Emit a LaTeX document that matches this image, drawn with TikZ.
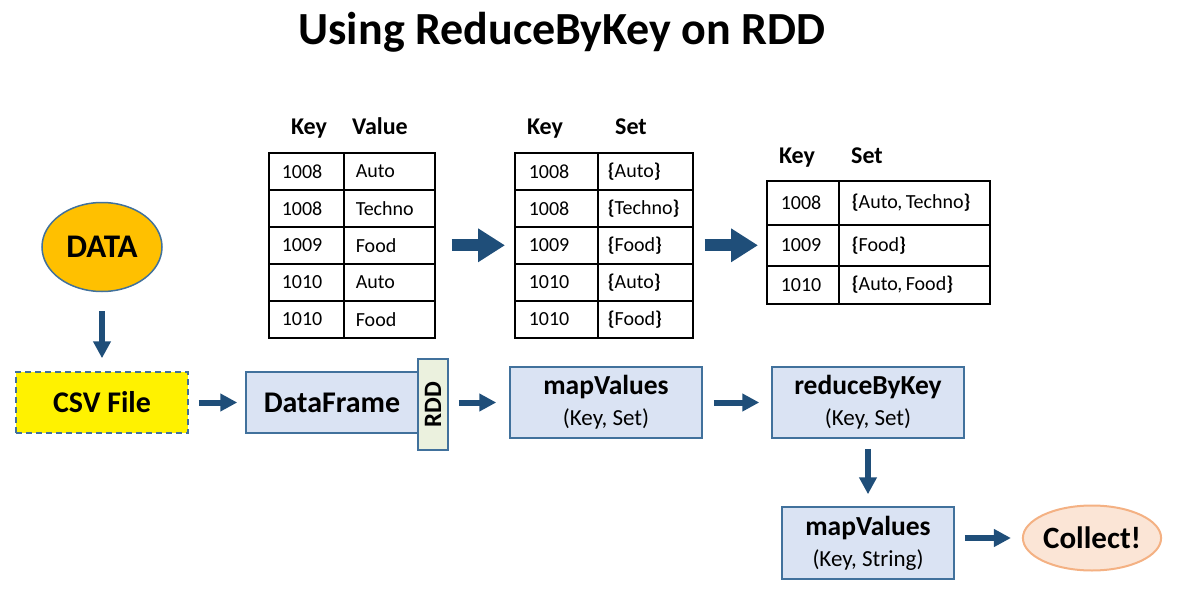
\documentclass[tikz,border=0pt]{standalone}
\usepackage{fontspec}
\setmainfont{Carlito}
\usetikzlibrary{arrows.meta,shapes.geometric}
\definecolor{arrblue}{HTML}{1F4E79}
\definecolor{boxline}{HTML}{41719C}
\definecolor{boxfill}{HTML}{DAE3F3}
\definecolor{rddfill}{HTML}{EBF1DE}
\definecolor{colfill}{HTML}{FBE5D6}
\definecolor{colline}{HTML}{F4B183}
\definecolor{datafill}{HTML}{FFC000}
\newcommand\obr{\textbf{\{}}
\newcommand\cbr{\textbf{\}}}
\tikzset{
  arr/.style={draw=arrblue, line width=6pt, -{Triangle[length=17pt,width=17pt]}},
  bigarr/.style={draw=arrblue, line width=12pt, -{Triangle[length=27pt,width=32pt]}},
  procbox/.style={draw=boxline, fill=boxfill, line width=1.5pt, rectangle, inner sep=0pt, align=center},
  cell/.style={draw=black, line width=1.6pt, rectangle, anchor=north west, inner xsep=13pt, inner ysep=0pt, align=left, font=\fontsize{20}{23}\selectfont},
  hdr/.style={font=\fontsize{24}{28}\selectfont\bfseries, anchor=base},
}
\begin{document}
\begin{tikzpicture}[x=1pt,y=-1pt]
\useasboundingbox (0,0) rectangle (1179,602);
\node[font=\fontsize{46}{50}\selectfont\bfseries] (title) at (562,32) {Using ReduceByKey on RDD};

% DATA
\node[ellipse, draw=boxline, fill=datafill, line width=1.5pt, minimum width=120pt, minimum height=89pt, inner sep=0pt, font=\fontsize{33}{36}\selectfont\bfseries] (data) at (102,247) {DATA};
% CSV
\node[rectangle, draw=boxline, dashed, dash pattern=on 6pt off 4pt, fill=yellow, line width=1.5pt, minimum width=172pt, minimum height=61pt, font=\fontsize{30}{34}\selectfont\bfseries] (csv) at (102,402.5) {CSV File};
% DataFrame
\node[procbox, minimum width=172pt, minimum height=61pt, font=\fontsize{30}{34}\selectfont\bfseries] (df) at (332,402.5) {DataFrame};
\node[draw=boxline, fill=rddfill, line width=1.5pt, minimum width=30pt, minimum height=91pt, inner sep=0pt] (rddbox) at (433,404.5) {};
\node[rotate=90, font=\fontsize{25}{28}\selectfont\bfseries] (rddtxt) at (rddbox) {RDD};
% mapValues
\node[procbox, minimum width=192pt, minimum height=71pt] (mv1) at (606,402.5) {\fontsize{27.5}{31}\selectfont\bfseries mapValues\\[9pt]\fontsize{23}{26}\selectfont (Key, Set)};
\node[procbox, minimum width=192pt, minimum height=71pt] (rbk) at (868,402.5) {\fontsize{27.5}{31}\selectfont\bfseries reduceByKey\\[9pt]\fontsize{23}{26}\selectfont (Key, Set)};
\node[procbox, minimum width=172pt, minimum height=72pt] (mv2) at (868,543) {\fontsize{27.5}{31}\selectfont\bfseries mapValues\\[9pt]\fontsize{23}{26}\selectfont (Key, String)};
\node[ellipse, draw=colline, fill=colfill, line width=2pt, minimum width=137pt, minimum height=65pt, inner sep=0pt, font=\fontsize{31}{34}\selectfont\bfseries] (coll) at (1092,538) {Collect!};

% arrows
\draw[arr, shorten <=19pt, shorten >=13pt] (data) -- (csv);
\draw[arr, shorten <=10pt, shorten >=8pt] (csv) -- (df);
\draw[arr, shorten <=10pt, shorten >=13pt] (rddbox.east |- mv1) -- (mv1);
\draw[arr, shorten <=11pt, shorten >=12pt] (mv1) -- (rbk);
\draw[arr, shorten <=10pt, shorten >=12pt] (rbk) -- (mv2);
\draw[arr, shorten <=10pt, shorten >=11pt] (mv2.east |- coll) -- (coll);

% table 1
\node[hdr] (h1a) at (309,134) {Key};
\node[hdr] (h1b) at (380,134) {Value};
\foreach \i/\k/\v in {0/1008/Auto,1/1008/Techno,2/1009/Food,3/1010/Auto,4/1010/Food}{
  \node[cell, text width=49pt, minimum height=37pt] (t1-\i-a) at (268,{152+37*\i}) {\k};
  \node[cell, minimum height=37pt, inner xsep=12pt, text width=67pt] (t1-\i-b) at (343,{152+37*\i}) {\v};
}
% table 2
\node[hdr] (h2a) at (545,134) {Key};
\node[hdr] (h2b) at (631,134) {Set};
\foreach \i/\k/\v in {0/1008/Auto,1/1008/Techno,2/1009/Food,3/1010/Auto,4/1010/Food}{
  \node[cell, text width=55pt, minimum height=37pt, inner xsep=14pt] (t2-\i-a) at (514,{152+37*\i}) {\k};
  \node[cell, text width=75pt, minimum height=37pt, inner xsep=10pt] (t2-\i-b) at (597,{152+37*\i}) {\obr\v\cbr};
}
% table 3
\node[hdr] (h3a) at (797,163) {Key};
\node[hdr] (h3b) at (867,163) {Set};
\node[cell, text width=44pt, minimum height=44pt, inner xsep=14pt] (t3-0-a) at (766,180) {1008};
\node[cell, text width=125pt, minimum height=44pt] (t3-0-b) at (838,180) {\obr Auto,\,Techno\cbr};
\node[cell, text width=44pt, minimum height=41pt, inner xsep=14pt] (t3-1-a) at (766,224) {1009};
\node[cell, text width=125pt, minimum height=41pt] (t3-1-b) at (838,224) {\obr Food\cbr};
\node[cell, text width=44pt, minimum height=38pt, inner xsep=14pt] (t3-2-a) at (766,265) {1010};
\node[cell, text width=125pt, minimum height=38pt] (t3-2-b) at (838,265) {\obr Auto,\,Food\cbr};

\draw[bigarr, shorten <=16pt, shorten >=9pt] (t1-2-b.east) -- (t2-2-a.west);
\draw[bigarr, shorten <=11pt, shorten >=8pt] (t2-2-b.east) -- (t2-2-b.east -| t3-1-a.west);
\end{tikzpicture}
\end{document}
